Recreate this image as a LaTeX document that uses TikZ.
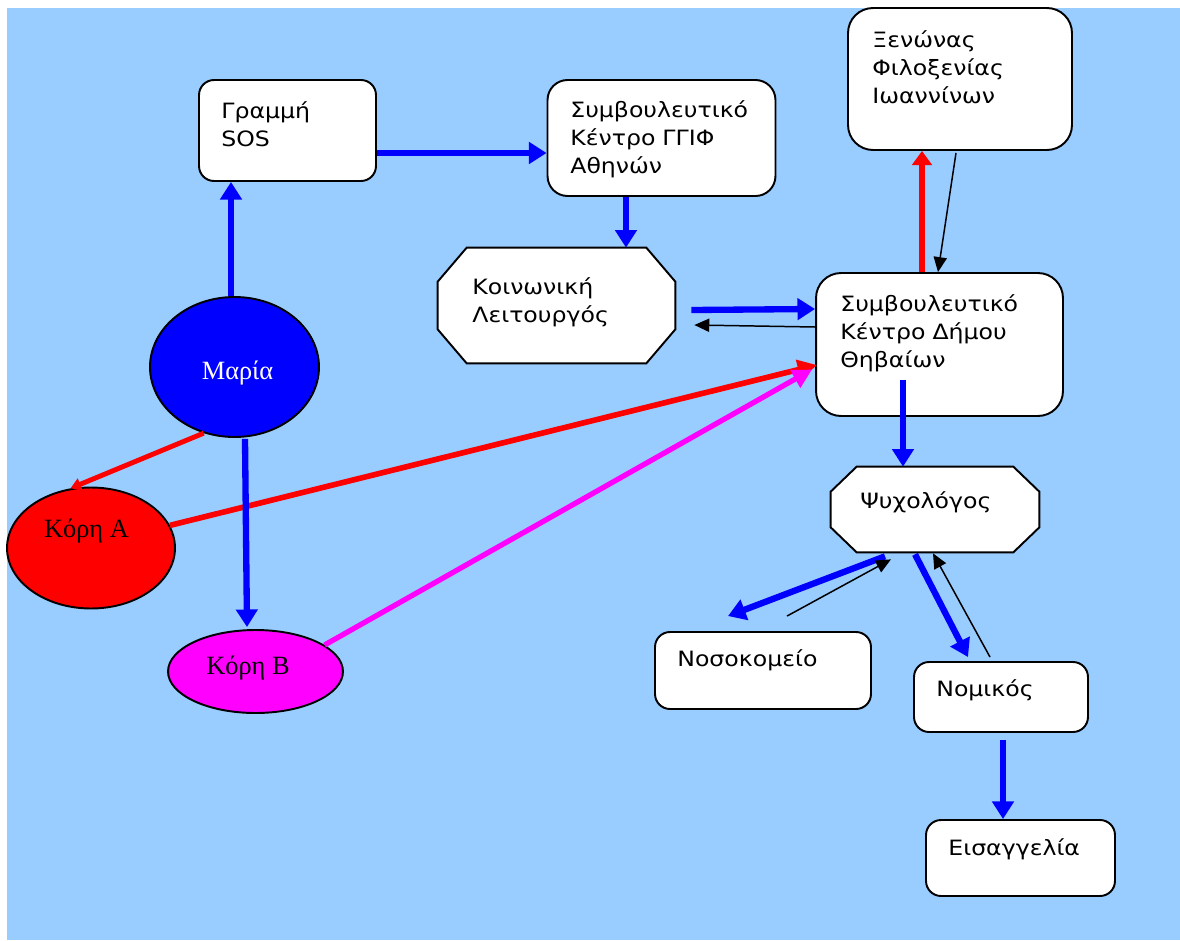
\documentclass[tikz,border=0pt]{standalone}
\usepackage{fontspec}
\newfontfamily\boxfont[FakeStretch=1.12]{DejaVu Sans}
\newfontfamily\ovalfont{Liberation Serif}
\usetikzlibrary{arrows.meta,shapes.geometric}
\definecolor{skyblue}{RGB}{153,204,255}
\definecolor{pureblue}{RGB}{0,0,255}
\definecolor{purered}{RGB}{255,0,0}
\definecolor{puremagenta}{RGB}{255,0,255}
% octagon round a plain node: name, cut along x, cut along y
\newcommand\drawocta[3]{%
  \draw[line width=1.1pt, fill=white]
    ([shift={(#2,0)}]#1.north west) -- ([shift={(-#2,0)}]#1.north east)
    -- ([shift={(0,#3)}]#1.north east) -- ([shift={(0,-#3)}]#1.south east)
    -- ([shift={(-#2,0)}]#1.south east) -- ([shift={(#2,0)}]#1.south west)
    -- ([shift={(0,-#3)}]#1.south west) -- ([shift={(0,#3)}]#1.north west) -- cycle;}
\begin{document}
\begin{tikzpicture}
[
x=0.02cm, y=-0.02cm,
box/.style={draw, line width=1.1pt, fill=white, rounded corners=0.4cm, inner sep=0pt},
frame/.style={inner sep=0pt},
oval/.style={ellipse, draw, line width=1.1pt, inner sep=0pt},
txt/.style={font=\boxfont\fontsize{12}{15.9}\selectfont, text width=5cm, align=left, anchor=base west, inner sep=0pt},
otxt/.style={font=\ovalfont\fontsize{15}{18}\selectfont, anchor=base, inner sep=0pt},
bluearr/.style={draw=pureblue, line width=3.6pt, -{Triangle[length=10pt,width=12pt]}},
redarr/.style={draw=purered, line width=3.2pt, -{Triangle[length=11pt,width=11pt]}},
pinkarr/.style={draw=puremagenta, line width=3pt, -{Triangle[length=11pt,width=11pt]}},
thinarr/.style={draw=black, line width=0.85pt, -{Triangle[length=8.5pt,width=7.5pt]}}
]
\useasboundingbox (0,0) rectangle (1180,940);
\fill[skyblue] (7,8) rectangle (1180,940);

\node[box, minimum width=3.54cm, minimum height=2.02cm, rounded corners=0.3cm] (sos) at (287.5,130.5) {};
\node[box, minimum width=4.56cm, minimum height=2.32cm] (ggif) at (661.5,138) {};
\node[box, minimum width=4.48cm, minimum height=2.84cm, rounded corners=0.5cm] (xen) at (960,79) {};
\node[box, minimum width=4.94cm, minimum height=2.86cm, rounded corners=0.5cm] (dimos) at (939.5,344.5) {};
\node[frame, minimum width=4.74cm, minimum height=2.30cm] (koin) at (556.5,305.5) {};
\drawocta{koin}{29}{34}
\node[frame, minimum width=4.16cm, minimum height=1.70cm] (psych) at (935,509.5) {};
\drawocta{psych}{26}{25}
\node[box, minimum width=4.32cm, minimum height=1.54cm, rounded corners=0.3cm] (nosok) at (763,670.5) {};
\node[box, minimum width=3.48cm, minimum height=1.40cm, rounded corners=0.3cm] (nomik) at (1001,697) {};
\node[box, minimum width=3.78cm, minimum height=1.52cm, rounded corners=0.3cm] (eisag) at (1020.5,858) {};

\node[txt] (sostext) at (221,118.5) {Γραμμή\\SOS};
\node[txt] (ggiftext) at (570,117.5) {Συμβουλευτικό\\Κέντρο ΓΓΙΦ\\Αθηνών};
\node[txt] (xentext) at (872,47.5) {Ξενώνας\\Φιλοξενίας\\Ιωαννίνων};
\node[txt] (dimostext) at (840,311.5) {Συμβουλευτικό\\Κέντρο Δήμου\\Θηβαίων};
\node[txt] (kointext) at (472,294.5) {Κοινωνική\\Λειτουργός};
\node[txt] (psychtext) at (860,508.5) {Ψυχολόγος};
\node[txt] (nosoktext) at (677,666.5) {Νοσοκομείο};
\node[txt] (nomiktext) at (936,696.5) {Νομικός};
\node[txt] (eisagtext) at (948,855.5) {Εισαγγελία};

\node[oval, fill=pureblue, minimum width=3.38cm, minimum height=2.80cm] (maria) at (234.5,367) {};
\node[oval, fill=purered, minimum width=3.36cm, minimum height=2.42cm] (koraA) at (91,548) {};
\node[oval, fill=puremagenta, minimum width=3.50cm, minimum height=1.66cm] (koraB) at (255.5,671.5) {};
\node[otxt, text=white] (mariatext) at (237.5,379) {Μαρία};
\node[otxt] (koraAtext) at (86.5,537) {Κόρη Α};
\node[otxt] (koraBtext) at (248,674) {Κόρη Β};

\draw[bluearr] ([shift={(-3.5,0)}]maria.north) -- ([shift={(-3.5,0)}]maria.north |- sos.south);
\draw[bluearr] ([shift={(0,22.5)}]sos.east) -- ([shift={(0,22.5)}]sos.east -| ggif.west);
\draw[bluearr] ([shift={(-35.5,0)}]ggif.south) -- ([shift={(-35.5,0)}]ggif.south |- koin.north);
\draw[bluearr] ([shift={(16,4.5)}]koin.east) -- ([shift={(0,-35.5)}]dimos.west);
\draw[thinarr] ([shift={(0,-17.5)}]dimos.west) -- ([shift={(19,19.5)}]koin.east);
\draw[redarr, line width=3.6pt, -{Triangle[length=8pt,width=11pt]}] ([shift={(-17.5,0)}]dimos.north) -- ([shift={(-17.5,0)}]dimos.north |- xen.south);
\draw[thinarr] ([shift={(-4,2)}]xen.south) -- ([shift={(-1.5,0)}]dimos.north);
\draw[redarr, line width=2.8pt, -{Triangle[length=6pt,width=7pt]}] (maria.245) -- (koraA.109);
\draw[redarr] (koraA.16) -- ([shift={(2,20.5)}]dimos.west);
\draw[bluearr] ([shift={(10.5,1)}]maria.south) -- ([shift={(-8.5,-2)}]koraB.north);
\draw[pinkarr] (koraB.21) -- ([shift={(-3,25)}]dimos.west);
\draw[bluearr] ([shift={(-36.5,35.5)}]dimos.center) -- ([shift={(-32,0)}]psych.north);
\draw[bluearr] ([shift={(-50,4)}]psych.south) -- ([shift={(-35,-15)}]nosok.north);
\draw[thinarr] ([shift={(24,-15)}]nosok.north) -- ([shift={(-44,7)}]psych.south);
\draw[bluearr] ([shift={(-20,2)}]psych.south) -- ([shift={(-33,-4)}]nomik.north);
\draw[thinarr] ([shift={(-11,-4)}]nomik.north) -- ([shift={(-2,1)}]psych.south);
\draw[bluearr] ([shift={(2,7)}]nomik.south) -- ([shift={(-17.5,0)}]eisag.north);
\end{tikzpicture}
\end{document}
